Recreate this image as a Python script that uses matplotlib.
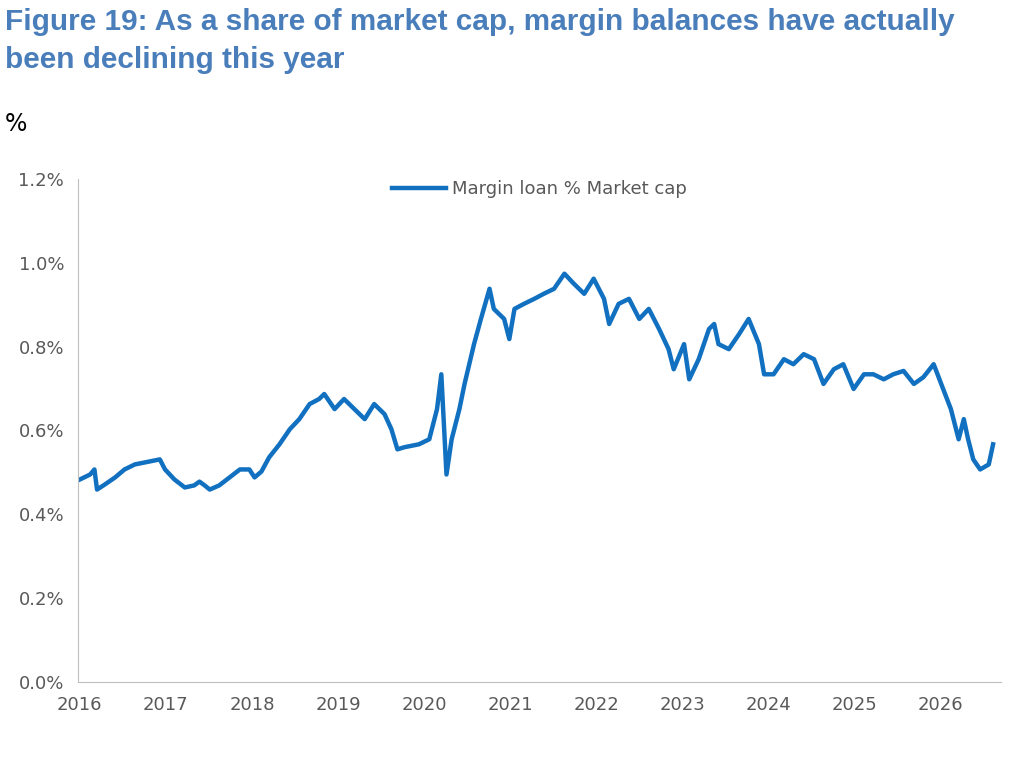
import matplotlib
matplotlib.use("Agg")
import matplotlib.pyplot as plt
import matplotlib.ticker as mticker

# decimal year and margin loan as % of market cap
years = [2016.00, 2016.12, 2016.17, 2016.20, 2016.29, 2016.41, 2016.52, 2016.64, 2016.81, 2016.93,
         2016.99, 2017.10, 2017.22, 2017.33, 2017.39, 2017.45, 2017.51, 2017.62, 2017.74, 2017.86,
         2017.97, 2018.03, 2018.11, 2018.20, 2018.32, 2018.44, 2018.55, 2018.67, 2018.78, 2018.84,
         2018.96, 2019.07, 2019.19, 2019.31, 2019.42, 2019.54, 2019.62, 2019.69, 2019.77, 2019.94,
         2020.06, 2020.15, 2020.20, 2020.26, 2020.32, 2020.41, 2020.47, 2020.58, 2020.66, 2020.76,
         2020.81, 2020.93, 2020.99, 2021.05, 2021.16, 2021.28, 2021.39, 2021.51, 2021.63, 2021.74,
         2021.86, 2021.97, 2022.09, 2022.15, 2022.26, 2022.38, 2022.50, 2022.61, 2022.73, 2022.84,
         2022.90, 2023.02, 2023.08, 2023.19, 2023.31, 2023.37, 2023.42, 2023.54, 2023.66, 2023.77,
         2023.89, 2023.95, 2024.06, 2024.18, 2024.29, 2024.41, 2024.53, 2024.64, 2024.76, 2024.87,
         2024.99, 2025.11, 2025.22, 2025.34, 2025.45, 2025.57, 2025.69, 2025.80, 2025.92, 2026.03,
         2026.12, 2026.21, 2026.27, 2026.32, 2026.38, 2026.46, 2026.56, 2026.61]
margin_pct = [0.483, 0.495, 0.507, 0.459, 0.471, 0.488, 0.507, 0.519, 0.526, 0.531,
              0.507, 0.483, 0.464, 0.469, 0.478, 0.469, 0.459, 0.469, 0.488, 0.507,
              0.507, 0.488, 0.502, 0.536, 0.567, 0.603, 0.627, 0.663, 0.675, 0.687,
              0.651, 0.675, 0.651, 0.627, 0.663, 0.639, 0.603, 0.555, 0.560, 0.567,
              0.579, 0.651, 0.734, 0.495, 0.579, 0.651, 0.711, 0.806, 0.866, 0.938,
              0.890, 0.866, 0.818, 0.890, 0.902, 0.914, 0.926, 0.938, 0.974, 0.950,
              0.926, 0.962, 0.914, 0.854, 0.902, 0.914, 0.866, 0.890, 0.842, 0.794,
              0.746, 0.806, 0.722, 0.770, 0.842, 0.854, 0.806, 0.794, 0.830, 0.866,
              0.806, 0.734, 0.734, 0.770, 0.758, 0.782, 0.770, 0.711, 0.746, 0.758,
              0.699, 0.734, 0.734, 0.722, 0.734, 0.742, 0.711, 0.727, 0.758, 0.699,
              0.651, 0.579, 0.627, 0.579, 0.531, 0.507, 0.519, 0.567]
year_ticks = list(range(2016, 2027))

fig = plt.figure(figsize=(10.14, 7.68), dpi=100)
ax = fig.add_axes([0.077, 0.112, 0.91, 0.655])

ax.plot(years, margin_pct, color="#1170C0", lw=3.2, label="Margin loan % Market cap")

ax.set_xlim(2015.98, 2026.7)
ax.set_ylim(0, 1.2)
ax.set_xticks(year_ticks)
ax.set_yticks([0, 0.2, 0.4, 0.6, 0.8, 1.0, 1.2])
ax.yaxis.set_major_formatter(mticker.FuncFormatter(lambda v, p: f"{v:.1f}%"))
ax.tick_params(length=0, labelsize=13, colors="#595959", pad=10)
for s in ["top", "right"]:
    ax.spines[s].set_visible(False)
for s in ["left", "bottom"]:
    ax.spines[s].set_color("#BFBFBF")

ax.legend(loc="upper center", bbox_to_anchor=(0.5, 1.03), frameon=False,
          fontsize=13, labelcolor="#595959", handlelength=3, handletextpad=0.3)

fig.text(0.005, 0.99, "Figure 19: As a share of market cap, margin balances have actually\nbeen declining this year",
         ha="left", va="top", fontsize=21.4, fontweight="bold", color="#4A7EBB",
         family="Liberation Sans", linespacing=1.45)
fig.text(0.005, 0.83, "%", fontsize=17, color="black")

fig.savefig("out.png", dpi=100)
